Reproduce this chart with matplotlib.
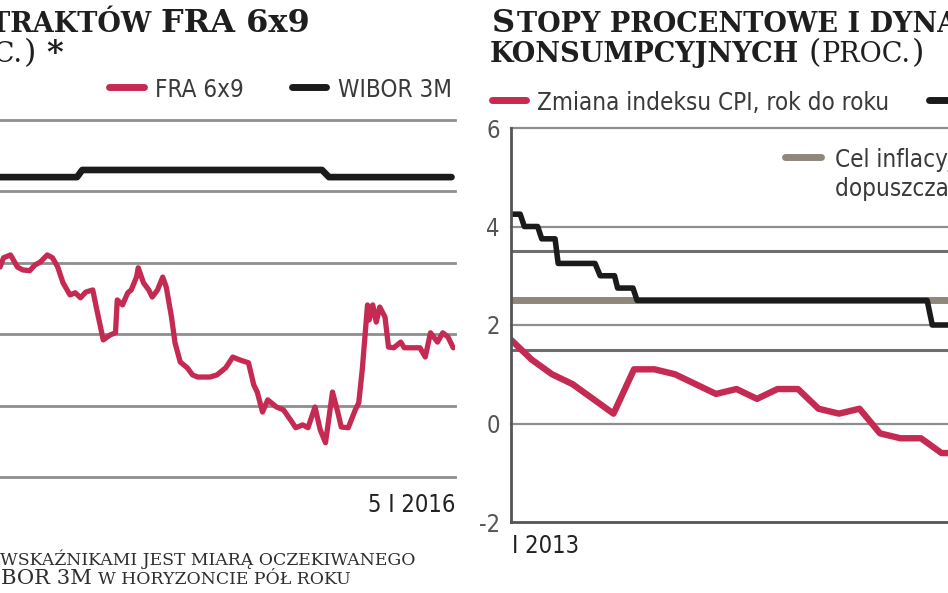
import os
import matplotlib
matplotlib.use('Agg')
import matplotlib.pyplot as plt
from matplotlib import font_manager as fm
from matplotlib.lines import Line2D
import numpy as np

W, H = 948, 593

# ---------------- data ----------------
# left panel: FRA 6x9 and WIBOR 3M (proc.), x = trading session index
fra_session = [0, 2, 6, 10, 13, 17, 20, 23, 27, 30, 33, 36, 40, 43, 46, 49, 53, 55, 59, 63,
               66, 67, 70, 73, 75, 78, 79, 82, 85, 87, 90, 93, 95, 98, 100, 103, 107, 110, 113, 120,
               124, 129, 133, 137, 142, 145, 147, 150, 153, 158, 162, 166, 169, 173, 176, 180, 183, 186, 190, 193,
               195, 199, 203, 205, 207, 210, 211, 213, 215, 217, 220, 222, 225, 229, 231, 240, 243, 246, 250, 253,
               256, 259]
fra_value = [1.594, 1.607, 1.611, 1.594, 1.590, 1.589, 1.597, 1.601, 1.611, 1.607, 1.594, 1.572, 1.555, 1.558, 1.551, 1.559, 1.562, 1.538, 1.492, 1.499,
             1.502, 1.548, 1.541, 1.558, 1.562, 1.580, 1.593, 1.572, 1.562, 1.552, 1.562, 1.580, 1.566, 1.524, 1.488, 1.461, 1.453, 1.443, 1.440, 1.440,
             1.443, 1.453, 1.468, 1.464, 1.460, 1.429, 1.419, 1.391, 1.408, 1.398, 1.394, 1.380, 1.369, 1.373, 1.369, 1.398, 1.366, 1.348, 1.419, 1.391,
             1.370, 1.369, 1.394, 1.404, 1.450, 1.541, 1.520, 1.541, 1.517, 1.538, 1.524, 1.482, 1.481, 1.489, 1.481, 1.481, 1.468, 1.502, 1.489, 1.502,
             1.496, 1.481]
wibor_session = [0, 44, 47, 184, 188, 258]
wibor_value = [1.72, 1.72, 1.73, 1.73, 1.72, 1.72]
left_grid = [1.3, 1.4, 1.5, 1.6, 1.7, 1.8]
left_end_label = '5 I 2016'

# right panel: CPI y/y and NBP reference rate (proc.), x = months since I 2013
cpi_month = list(range(24))
cpi_value = [1.7, 1.3, 1.0, 0.8, 0.5, 0.2, 1.1, 1.1, 1.0, 0.8, 0.6, 0.7,
             0.5, 0.7, 0.7, 0.3, 0.2, 0.3, -0.2, -0.3, -0.3, -0.6, -0.6, -1.0]
ref_month = [0, 0.45, 0.65, 1.3, 1.5, 2.15, 2.3, 4.1, 4.35, 5.05, 5.2, 5.95, 6.15, 20.3, 20.55, 25]
ref_value = [4.25, 4.25, 4.0, 4.0, 3.75, 3.75, 3.25, 3.25, 3.0, 3.0, 2.75, 2.75, 2.5, 2.5, 2.0, 2.0]
target = 2.5
band = [1.5, 3.5]
right_yticks = [-2, 0, 2, 4, 6]
right_grid = [0, 2, 4, 6]
right_start_label = 'I 2013'

# ---------------- fonts ----------------
names = {f.name for f in fm.fontManager.ttflist}
if 'Liberation Sans Narrow' in names:
    SANS = dict(family='Liberation Sans Narrow')
    LEG_PT, TICK_PT = 20, 19
else:
    cond = [f for f in fm.fontManager.ttflist
            if f.name == 'DejaVu Sans' and 'Condensed' in f.fname and 'Bold' not in f.fname
            and 'Oblique' not in f.fname]
    if cond:
        SANS = dict(fontproperties=fm.FontProperties(fname=cond[0].fname))
        LEG_PT, TICK_PT = 17.4, 17
    else:
        SANS = dict(family='DejaVu Sans')
        LEG_PT, TICK_PT = 15.7, 15.5


def serif_file(bold):
    want = 'DejaVuSerif-Bold.ttf' if bold else 'DejaVuSerif.ttf'
    for f in fm.fontManager.ttflist:
        if os.path.basename(f.fname) == want:
            return f.fname
    return fm.findfont(fm.FontProperties(family='DejaVu Serif',
                                         weight='bold' if bold else 'normal', stretch='normal'))


SERIF_FILES = {'bold': serif_file(True), 'normal': serif_file(False)}

RED = '#c42a52'
BLACK = '#1b1b1b'
GRID = '#8e8e8e'
TAUPE = '#8f877c'

fig = plt.figure(figsize=(W / 100, H / 100), dpi=100)
fig.patch.set_facecolor('white')
R = fig.canvas.get_renderer()


def fx(x):
    return x / W


def fy(y):
    return 1 - y / H


def stext(x, y, s, size, color='#222222', ha='left'):
    if 'fontproperties' in SANS:
        fp = SANS['fontproperties'].copy()
        fp.set_size(size)
        return fig.text(fx(x), fy(y), s, fontproperties=fp, color=color, ha=ha, va='baseline')
    return fig.text(fx(x), fy(y), s, fontsize=size, color=color, ha=ha, va='baseline',
                    family=SANS['family'])


def seq(x, y, parts, anchor='left', color='#1e1e1e'):
    items = []
    for p in parts:
        if isinstance(p, (int, float)):
            items.append((None, p))
        else:
            s, size, weight = p
            fp = fm.FontProperties(fname=SERIF_FILES[weight], size=size)
            t = fig.text(0, 0, s, fontproperties=fp, color=color, va='baseline', ha='left')
            items.append((t, t.get_window_extent(R).width))
    total = sum(w for _, w in items)
    cur = x if anchor == 'left' else x - total
    for t, w in items:
        if t is not None:
            t.set_position((fx(cur), fy(y)))
        cur += w


# ---------------- left panel ----------------
axL = fig.add_axes([0, fy(477), 455 / W, (477 - 120) / H])
axL.set_xlim(0, 260)
axL.set_ylim(1.30, 1.80)
axL.axis('off')
for v in left_grid:
    axL.axhline(v, color=GRID, lw=2.0, zorder=1, clip_on=False)
axL.plot(wibor_session, wibor_value, color=BLACK, lw=4.8, solid_capstyle='round',
         solid_joinstyle='round', zorder=3, clip_on=False)
axL.plot(fra_session, fra_value, color=RED, lw=3.8, solid_capstyle='round',
         solid_joinstyle='round', zorder=4)

stext(455, 512, left_end_label, TICK_PT, color='#222222', ha='right')

# left legend
fig.add_artist(Line2D([fx(109), fx(144)], [fy(87), fy(87)], color=RED, lw=5, solid_capstyle='round'))
stext(155, 97, 'FRA 6x9', LEG_PT, color='#3a3a3a')
fig.add_artist(Line2D([fx(292), fx(326)], [fy(87), fy(87)], color=BLACK, lw=5, solid_capstyle='round'))
stext(338, 97, 'WIBOR 3M', LEG_PT, color='#3a3a3a')

# titles: small caps emulated with two sizes
L, S = 23, 19.5
seq(310, 32, [('KONTRAKTÓW', S, 'bold'), 9, ('FRA 6x9', L, 'bold')], anchor='right')
seq(63, 62, [('PROC.', S, 'normal'), 1, (')', L, 'normal'), 10, ('*', L, 'bold')], anchor='right')

# footnote
FS, FL = 12.4, 15.2
FC = '#2e2e2e'
seq(0, 565, [('WSKAŹNIKAMI JEST MIARĄ OCZEKIWANEGO', FS, 'normal')], color=FC)
seq(1, 584, [('BOR 3M', FL, 'normal'), 6, ('W HORYZONCIE PÓŁ ROKU', FS, 'normal')], color=FC)

# ---------------- right panel ----------------
x_right_px = 1100
axR = fig.add_axes([511 / W, fy(522), (x_right_px - 511) / W, (522 - 128) / H])
axR.set_xlim(0, (x_right_px - 511) / 20.5)
axR.set_ylim(-2, 6)
for sp in ['top', 'right']:
    axR.spines[sp].set_visible(False)
for sp in ['left', 'bottom']:
    axR.spines[sp].set_color('#555555')
    axR.spines[sp].set_linewidth(2)
    axR.spines[sp].set_zorder(6)
axR.set_xticks([])
axR.set_yticks(right_yticks)
axR.tick_params(axis='y', length=0, pad=8, colors='#555555')
axR.set_yticklabels([str(v) for v in right_yticks])
for lab in axR.get_yticklabels():
    if 'fontproperties' in SANS:
        fp = SANS['fontproperties'].copy()
        fp.set_size(TICK_PT)
        lab.set_fontproperties(fp)
    else:
        lab.set_family(SANS['family'])
        lab.set_fontsize(TICK_PT)
    lab.set_color('#555555')
for v in right_grid:
    axR.axhline(v, color=GRID, lw=1.6, zorder=1, clip_on=False)
for v in band:
    axR.axhline(v, color='#6e6e6e', lw=2.2, zorder=1)
axR.axhline(target, color=TAUPE, lw=5, zorder=2)
axR.plot(ref_month, ref_value, color=BLACK, lw=4.0, solid_joinstyle='round',
         solid_capstyle='round', zorder=3)
axR.plot(cpi_month, cpi_value, color=RED, lw=4.6, solid_joinstyle='round',
         solid_capstyle='round', zorder=4)

stext(512, 553, right_start_label, TICK_PT, color='#222222')

# right legends
fig.add_artist(Line2D([fx(492), fx(526)], [fy(100), fy(100)], color=RED, lw=5, solid_capstyle='round'))
stext(537, 110, 'Zmiana indeksu CPI, rok do roku', LEG_PT, color='#3a3a3a')
fig.add_artist(Line2D([fx(929), fx(962)], [fy(100), fy(100)], color=BLACK, lw=5, solid_capstyle='round'))
fig.add_artist(Line2D([fx(785), fx(821)], [fy(157), fy(157)], color=TAUPE, lw=5, solid_capstyle='round'))
stext(835, 167, 'Cel inflacyjny NBP', LEG_PT, color='#3a3a3a')
stext(835, 196, 'dopuszczalnych odchyleń', LEG_PT, color='#3a3a3a')

seq(492, 32, [('S', L, 'bold'), 2, ('TOPY PROCENTOWE I DYNAMIKA', S, 'bold')])
seq(490, 62, [('KONSUMPCYJNYCH', S, 'bold'), 9, ('(', L, 'normal'), 1, ('PROC.', S, 'normal'), 1, (')', L, 'normal')])

fig.savefig('out.png', dpi=100, facecolor='white')
